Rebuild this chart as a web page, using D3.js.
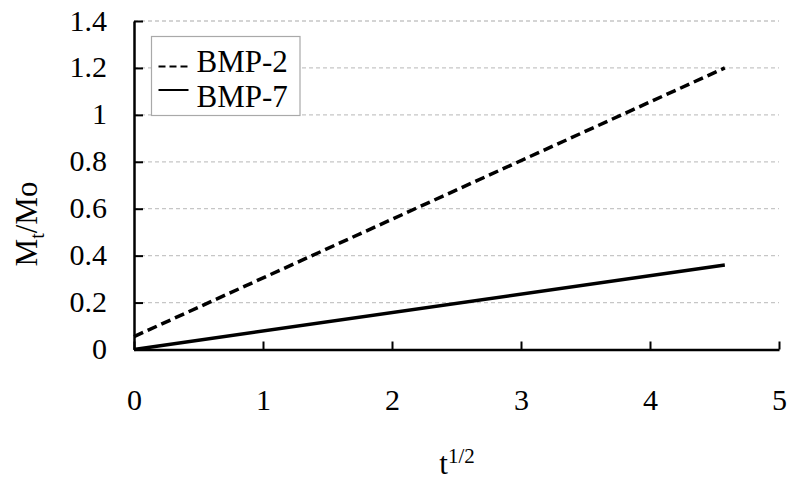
<!DOCTYPE html>
<html>
<head>
<meta charset="utf-8">
<script src="https://cdn.jsdelivr.net/npm/d3@7"></script>
<style>
  body { margin: 0; background: #fff; }
  text { font-family: "Liberation Serif", "Times New Roman", serif; fill: #000; }
</style>
</head>
<body>
<svg id="vis-svg"></svg>
<script>
// x values are t^1/2 (0 and sqrt(21))
const xValues = [0, 4.58];
const bmp2 = [0.055, 1.2];
const bmp7 = [0, 0.36];
const seriesNames = ["BMP-2", "BMP-7"];
const xTicks = [0, 1, 2, 3, 4, 5];
const yTicks = [0, 0.2, 0.4, 0.6, 0.8, 1, 1.2, 1.4];

const serif = "'Liberation Serif', 'Times New Roman', serif";

let margin = { top: 21, right: 13, bottom: 131.5, left: 134 },
    width = 792 - margin.left - margin.right,
    height = 481 - margin.top - margin.bottom;

const x = d3.scaleLinear().domain([0, 5]).range([0, width]),
    y = d3.scaleLinear().domain([0, 1.4]).range([height, 0]);

const svg = d3.select("#vis-svg")
    .attr("width", 792)
    .attr("height", 481)
    .append("g")
    .attr("font-family", serif)
    .attr("transform", "translate(" + margin.left + "," + margin.top + ")");

// gridlines
svg.selectAll(".grid")
    .data(yTicks.filter(d => d > 0))
    .enter().append("line")
    .attr("x1", 0)
    .attr("x2", width)
    .attr("y1", d => y(d))
    .attr("y2", d => y(d))
    .attr("stroke", "#c6c6c6")
    .attr("stroke-width", 1.3)
    .attr("stroke-dasharray", "4,3");

// y axis, ticks pointing inward
let yAxis = svg.append("g")
    .call(d3.axisLeft(y).tickValues(yTicks).tickSizeInner(-9).tickSizeOuter(0)
        .tickPadding(27).tickFormat(d3.format("")));

// x axis
let xAxis = svg.append("g")
    .attr("transform", "translate(0," + height + ")")
    .call(d3.axisBottom(x).tickValues(xTicks).tickSizeInner(-8).tickSizeOuter(0)
        .tickPadding(39).tickFormat(d3.format("")));

[xAxis, yAxis].forEach(a => {
    a.attr("font-family", serif).attr("font-size", 30);
    a.select(".domain").attr("stroke", "#000").attr("stroke-width", 2.5);
    a.selectAll(".tick line").attr("stroke", "#000").attr("stroke-width", 2);
    a.selectAll("text").style("font-size", "30px").style("font-family", serif);
});
yAxis.selectAll(".tick text").attr("dy", "0.3em");

// lines
const line = d3.line()
    .x((d, i) => x(xValues[i]))
    .y(d => y(d));

svg.append("path")
    .datum(bmp2)
    .attr("d", line)
    .attr("fill", "none")
    .attr("stroke", "#000")
    .attr("stroke-width", 3.5)
    .attr("stroke-dasharray", "10,5");

svg.append("path")
    .datum(bmp7)
    .attr("d", line)
    .attr("fill", "none")
    .attr("stroke", "#000")
    .attr("stroke-width", 3.5);

// legend
const legend = svg.append("g")
    .attr("transform", "translate(" + (151.5 - margin.left) + "," + (36.5 - margin.top) + ")");

legend.append("rect")
    .attr("width", 148.5)
    .attr("height", 79)
    .attr("fill", "#fff")
    .attr("stroke", "#a9a9a9")
    .attr("stroke-width", 1.2);

seriesNames.forEach((name, i) => {
    let ly = 30 + i * 23.5;
    legend.append("line")
        .attr("x1", 7).attr("x2", 37)
        .attr("y1", ly).attr("y2", ly)
        .attr("stroke", "#000")
        .attr("stroke-width", 2)
        .attr("stroke-dasharray", i === 0 ? "7,4" : null);
    legend.append("text")
        .attr("x", 45)
        .attr("y", 35 + i * 35)
        .style("font-size", "31px")
        .style("font-family", serif)
        .text(name);
});

// axis titles
svg.append("text")
    .attr("transform", "translate(" + (457 - margin.left) + "," + (474 - margin.top) + ")")
    .style("text-anchor", "middle")
    .style("font-size", "31px")
    .style("font-family", serif)
    .html("t<tspan dy='-11' font-size='21px'>1/2</tspan>");

svg.append("text")
    .attr("transform", "translate(" + (37 - margin.left) + "," + (224 - margin.top) + ") rotate(-90)")
    .style("text-anchor", "middle")
    .style("font-size", "31px")
    .style("font-family", serif)
    .html("M<tspan dy='7' font-size='20px'>t</tspan><tspan dy='-7'>/Mo</tspan>");
</script>
</body>
</html>
